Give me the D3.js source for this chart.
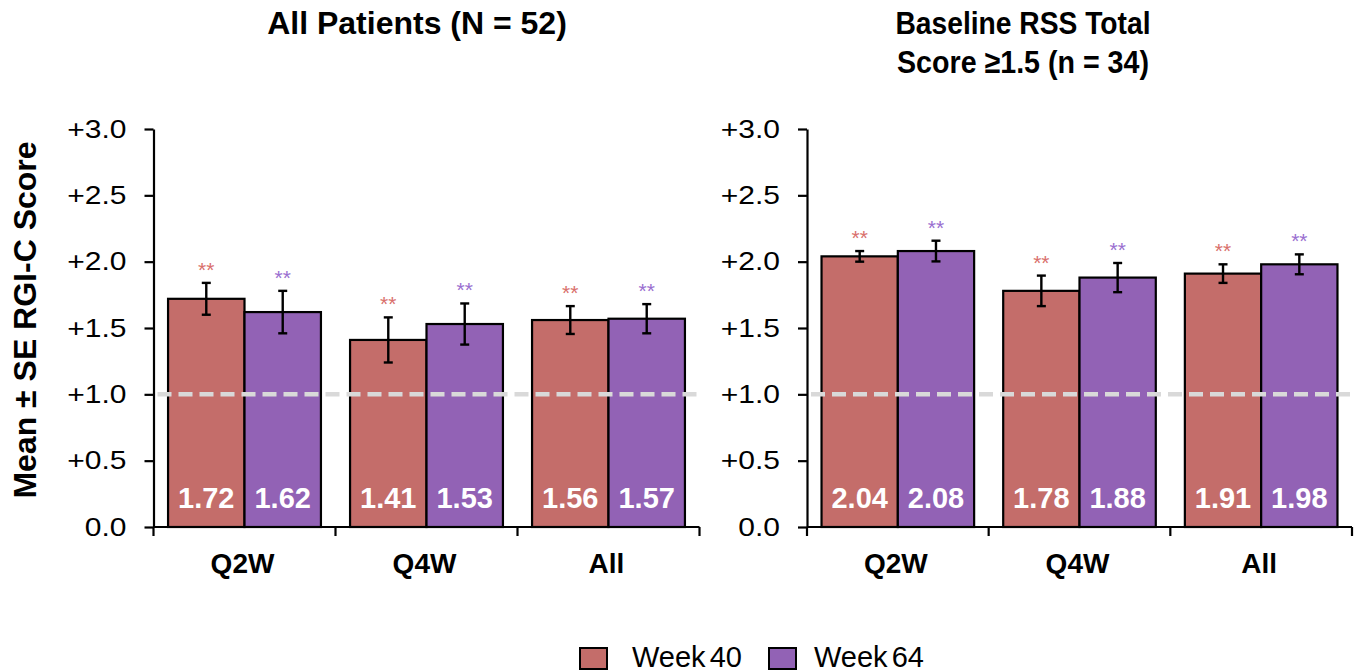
<!DOCTYPE html>
<html>
<head>
<meta charset="utf-8">
<script src="https://cdn.jsdelivr.net/npm/d3@7"></script>
<style>
  html, body { margin: 0; padding: 0; background: #fff; }
  svg { display: block; font-family: "Liberation Sans", Arial, sans-serif; }
</style>
</head>
<body>
<svg id="chart" width="1360" height="672"></svg>
<script>
// Dosing groups on the x axis
const categories = ["Q2W", "Q4W", "All"];
const seriesNames = ["Week 40", "Week 64"];
const seriesColors = ["#c46d6a", "#9262b5"];
const starColors = ["#d9706c", "#9a6fd0"];

// All patients (N = 52): means and standard errors
const allWeek40 = [1.72, 1.41, 1.56];
const allWeek64 = [1.62, 1.53, 1.57];
const allSE40 = [0.12, 0.17, 0.105];
const allSE64 = [0.16, 0.155, 0.11];

// Baseline RSS total score >= 1.5 (n = 34)
const subWeek40 = [2.04, 1.78, 1.91];
const subWeek64 = [2.08, 1.88, 1.98];
const subSE40 = [0.04, 0.115, 0.07];
const subSE64 = [0.078, 0.11, 0.075];

const yTicks = [0, 0.5, 1.0, 1.5, 2.0, 2.5, 3.0];
const referenceLine = 1.0;

const panels = [
  { titleLines: ["All Patients (N = 52)"], titleLengths: [null], titleX: 417, left: 153.5, width: 546,
    values: [allWeek40, allWeek64], se: [allSE40, allSE64] },
  { titleLines: ["Baseline RSS Total", "Score \u22651.5 (n = 34)"], titleLengths: [255, 252], titleX: 1023, left: 807, width: 545,
    values: [subWeek40, subWeek64], se: [subSE40, subSE64] }
];

const svg = d3.select("#chart");
const plotTop = 129, plotBottom = 527;

const y = d3.scaleLinear().domain([0, 3]).range([plotBottom, plotTop]);
const tickFmt = d => d === 0 ? "0.0" : "+" + d3.format(".1f")(d);

panels.forEach(p => {
  const g = svg.append("g").attr("transform", `translate(${p.left},0)`);

  const x0 = d3.scaleBand().domain(categories).range([0, p.width])
    .paddingInner(0.16).paddingOuter(0.08);
  const x1 = d3.scaleBand().domain(seriesNames).range([0, x0.bandwidth()]);
  const halfGap = x0.step() * 0.08;

  // panel title (the second panel uses a condensed two-line title)
  p.titleLines.forEach((t, i) => {
    const tt = svg.append("text")
      .attr("x", p.titleX).attr("y", 34 + i * 39)
      .attr("text-anchor", "middle")
      .attr("font-size", 32).attr("font-weight", "bold")
      .attr("fill", "#000").text(t);
    if (p.titleLengths[i]) {
      tt.attr("textLength", p.titleLengths[i]).attr("lengthAdjust", "spacingAndGlyphs");
    }
  });

  // bars
  categories.forEach((c, ci) => {
    seriesNames.forEach((s, si) => {
      const v = p.values[si][ci];
      const bx = x0(c) + x1(s);
      g.append("rect")
        .attr("x", bx).attr("y", y(v))
        .attr("width", x1.bandwidth()).attr("height", y(0) - y(v))
        .attr("fill", seriesColors[si])
        .attr("stroke", "#000").attr("stroke-width", 2.2);
    });
  });

  // reference line at +1.0
  g.append("line")
    .attr("x1", 4).attr("x2", p.width - 2)
    .attr("y1", y(referenceLine)).attr("y2", y(referenceLine))
    .attr("stroke", "#d9d9d9").attr("stroke-width", 4.5)
    .attr("stroke-dasharray", "14,7");

  // error bars, significance marks and value labels
  categories.forEach((c, ci) => {
    seriesNames.forEach((s, si) => {
      const v = p.values[si][ci];
      const e = p.se[si][ci];
      const cx = x0(c) + x1(s) + x1.bandwidth() / 2;
      const eg = g.append("g").attr("stroke", "#000").attr("stroke-width", 2.4);
      eg.append("line").attr("x1", cx).attr("x2", cx).attr("y1", y(v + e)).attr("y2", y(v - e));
      eg.append("line").attr("x1", cx - 4.5).attr("x2", cx + 4.5).attr("y1", y(v + e)).attr("y2", y(v + e));
      eg.append("line").attr("x1", cx - 4.5).attr("x2", cx + 4.5).attr("y1", y(v - e)).attr("y2", y(v - e));

      g.append("text")
        .attr("x", cx).attr("y", y(v + e) - 6)
        .attr("text-anchor", "middle")
        .attr("font-size", 21)
        .attr("fill", starColors[si])
        .text("**");

      g.append("text")
        .attr("x", cx).attr("y", 508)
        .attr("text-anchor", "middle")
        .attr("font-size", 29).attr("font-weight", "bold")
        .attr("fill", "#fff")
        .text(d3.format(".2f")(v));
    });
  });

  // y axis
  const yAxis = g.append("g")
    .call(d3.axisLeft(y).tickValues(yTicks).tickFormat(tickFmt).tickSize(9).tickSizeOuter(0));
  yAxis.select(".domain").attr("stroke-width", 2.2);
  yAxis.selectAll(".tick line").attr("stroke-width", 2.2);
  yAxis.selectAll(".tick text")
    .attr("font-size", 25).attr("fill", "#000")
    .attr("font-family", "\"Liberation Sans\", Arial, sans-serif")
    .attr("x", -22.5)
    .attr("transform", "scale(1.2,1)");

  // x axis: baseline with ticks at category boundaries
  const boundaries = categories.map(c => x0(c) - halfGap).concat([p.width]);
  g.append("line")
    .attr("x1", 0).attr("x2", p.width)
    .attr("y1", y(0)).attr("y2", y(0))
    .attr("stroke", "#000").attr("stroke-width", 2.2);
  boundaries.forEach(bx => {
    g.append("line")
      .attr("x1", bx).attr("x2", bx)
      .attr("y1", y(0)).attr("y2", y(0) + 9)
      .attr("stroke", "#000").attr("stroke-width", 2.2);
  });
  categories.forEach(c => {
    g.append("text")
      .attr("x", x0(c) + x0.bandwidth() / 2 - 2).attr("y", 573)
      .attr("text-anchor", "middle")
      .attr("font-size", 28).attr("font-weight", "bold")
      .attr("fill", "#000").text(c);
  });
});

// y axis title
svg.append("text")
  .attr("transform", "translate(36,320) rotate(-90)")
  .attr("text-anchor", "middle")
  .attr("font-size", 32).attr("font-weight", "bold")
  .attr("fill", "#000")
  .text("Mean \u00b1 SE RGI-C Score");

// legend
const legendItems = [
  { name: seriesNames[0], color: seriesColors[0], box: 580, text: 632 },
  { name: seriesNames[1], color: seriesColors[1], box: 769, text: 814 }
];
legendItems.forEach(it => {
  svg.append("rect")
    .attr("x", it.box).attr("y", 648).attr("width", 27).attr("height", 21)
    .attr("fill", it.color).attr("stroke", "#000").attr("stroke-width", 2);
  svg.append("text")
    .attr("x", it.text).attr("y", 667)
    .attr("font-size", 29).attr("fill", "#000")
    .attr("word-spacing", -4)
    .text(it.name);
});
</script>
</body>
</html>
